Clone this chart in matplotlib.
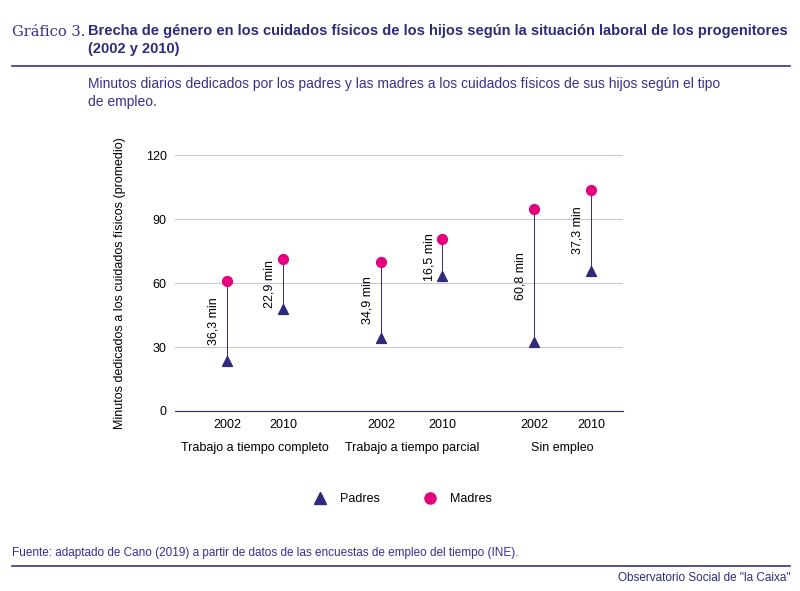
import matplotlib.pyplot as plt
from matplotlib.lines import Line2D

plt.rcParams['font.family'] = ['Liberation Sans', 'DejaVu Sans']

years = ['2002', '2010', '2002', '2010', '2002', '2010']
groups = ['Trabajo a tiempo completo', 'Trabajo a tiempo parcial', 'Sin empleo']
padres = [23.4, 47.8, 34.2, 63.3, 32.3, 65.6]
madres = [60.9, 71.2, 69.8, 80.6, 94.7, 103.6]
gaps = ['36,3 min', '22,9 min', '34,9 min', '16,5 min', '60,8 min', '37,3 min']

xpos = [0.93, 1.93, 3.68, 4.77, 6.41, 7.43]
navy = '#2e2a7c'
magenta = '#e5007d'
purple = '#3c2d8f'

fig = plt.figure(figsize=(8, 5.91), dpi=100)
ax = fig.add_axes([0.219, 0.3046, 0.56, 0.433])

for x, p, m, g in zip(xpos, padres, madres, gaps):
    ax.plot([x, x], [p, m], color=navy, lw=0.7, zorder=1)
    ax.text(x - 0.13, (p + m) / 2, g, rotation=90, ha='right', va='center', fontsize=9)
ax.scatter(xpos, padres, marker='^', s=50, color=navy, zorder=3)
ax.scatter(xpos, madres, marker='o', s=50, color=magenta, zorder=3)

ax.set_xlim(0, 8)
ax.set_ylim(0, 120)
ax.set_yticks([0, 30, 60, 90, 120])
ax.set_xticks(xpos)
ax.set_xticklabels(years, fontsize=9)
ax.tick_params(length=0, labelsize=9, pad=6)
ax.yaxis.grid(True, color='#c9c6dc', lw=0.8)
ax.set_axisbelow(True)
for s in ['top', 'right', 'left']:
    ax.spines[s].set_visible(False)
ax.spines['bottom'].set_color(navy)
ax.set_ylabel('Minutos dedicados a los cuidados físicos (promedio)', fontsize=9, labelpad=14)

for gx, name in zip([(xpos[0] + xpos[1]) / 2, (xpos[2] + xpos[3]) / 2, (xpos[4] + xpos[5]) / 2], groups):
    ax.text(gx, -0.12, name, transform=ax.get_xaxis_transform(), ha='center', va='top', fontsize=9)

handles = [Line2D([], [], marker='^', color=navy, ls='', markersize=8),
           Line2D([], [], marker='o', color=magenta, ls='', markersize=8)]
fig.legend(handles, ['Padres', 'Madres'], loc='center', bbox_to_anchor=(0.5, 1 - 499 / 591),
           ncol=2, frameon=False, fontsize=9, columnspacing=3, handletextpad=0.6)

fig.text(12 / 800, 1 - 32 / 591, 'Gráfico 3.', family='DejaVu Serif', fontsize=10.5, color=purple, va='center')
fig.text(88 / 800, 1 - 40 / 591,
         'Brecha de género en los cuidados físicos de los hijos según la situación laboral de los progenitores\n(2002 y 2010)',
         fontsize=10.5, fontweight='bold', color=navy, va='center', linespacing=1.3)
fig.add_artist(Line2D([12 / 800, 790 / 800], [1 - 66 / 591] * 2, color=purple, lw=1.2))
fig.text(88 / 800, 1 - 93 / 591,
         'Minutos diarios dedicados por los padres y las madres a los cuidados físicos de sus hijos según el tipo\nde empleo.',
         fontsize=10, color=purple, va='center', linespacing=1.3)
fig.text(12 / 800, 1 - 553 / 591,
         'Fuente: adaptado de Cano (2019) a partir de datos de las encuestas de empleo del tiempo (INE).',
         fontsize=8.5, color=purple, va='center')
fig.add_artist(Line2D([12 / 800, 790 / 800], [1 - 566 / 591] * 2, color=purple, lw=1.2))
fig.text(790 / 800, 1 - 578 / 591, 'Observatorio Social de "la Caixa"', fontsize=8.5, color=navy,
         ha='right', va='center')

fig.savefig('out.png', dpi=100)
